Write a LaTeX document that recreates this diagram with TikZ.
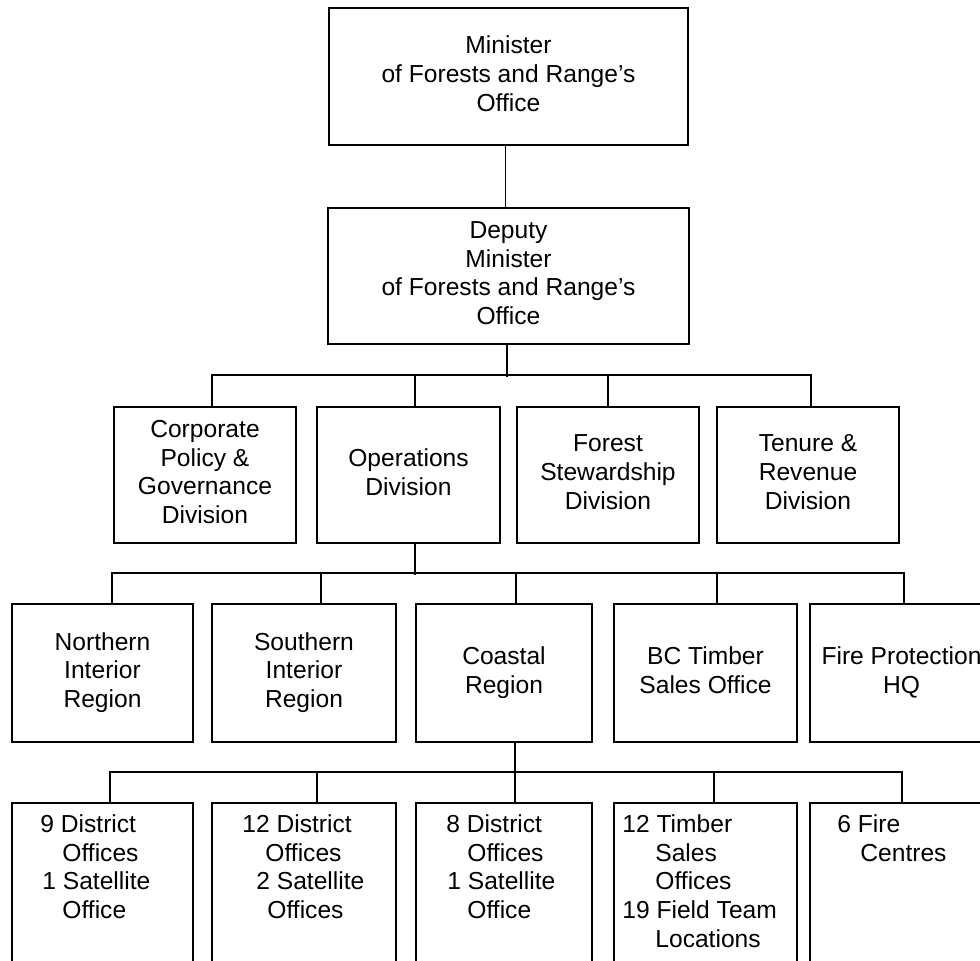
\documentclass[tikz,border=0pt]{standalone}
\usepackage{fontspec}
\setmainfont{Liberation Sans}

\begin{document}
\begin{tikzpicture}[x=1pt,y=-1pt]
  \tikzset{
    unitbox/.style={draw,line width=1.6pt,minimum width=182pt,minimum height=136pt,
      align=center,inner sep=0pt,text depth=6pt,font=\fontsize{24.6}{28.8}\selectfont},
    listtext/.style={anchor=north west,align=left,inner sep=0pt,
      font=\fontsize{24.6}{28.8}\selectfont},
    link/.style={line width=1.6pt},
  }
  \useasboundingbox (0,0) rectangle (980,961);
  \clip (0,0) rectangle (980,961);
  % top offices
  \node[unitbox,minimum width=359pt,minimum height=137pt] (minister) at (508.5,76.5) {Minister\\of Forests and Range’s\\Office};
  \node[unitbox,minimum width=361pt] (deputy) at (508.5,276) {Deputy\\Minister\\of Forests and Range’s\\Office};
  % divisions
  \node[unitbox] (corporate) at (205,475) {Corporate\\Policy \&\\Governance\\Division};
  \node[unitbox,minimum width=183pt] (operations) at (408.5,475) {Operations\\Division};
  \node[unitbox] (stewardship) at (608,475) {Forest\\Stewardship\\Division};
  \node[unitbox] (tenure) at (808,475) {Tenure \&\\Revenue\\Division};
  % regions
  \node[unitbox,minimum width=181pt,minimum height=138pt] (northern) at (102.5,673) {Northern\\Interior\\Region};
  \node[unitbox,minimum width=184pt,minimum height=138pt] (southern) at (304,673) {Southern\\Interior\\Region};
  \node[unitbox,minimum width=176pt,minimum height=138pt] (coastal) at (504,673) {Coastal\\Region};
  \node[unitbox,minimum width=183pt,minimum height=138pt] (timber) at (705.5,673) {BC Timber\\Sales Office};
  \node[unitbox,minimum width=183pt,minimum height=138pt] (fire) at (901.5,673) {Fire Protection\\HQ};
  % field offices
  \node[unitbox,minimum width=181pt,minimum height=200pt] (nidist) at (102.5,903) {};
  \node[unitbox,minimum width=184pt,minimum height=200pt] (sidist) at (304,903) {};
  \node[unitbox,minimum width=176pt,minimum height=200pt] (cdist) at (504,903) {};
  \node[unitbox,minimum width=183pt,minimum height=200pt] (tsdist) at (705.5,903) {};
  \node[unitbox,minimum width=183pt,minimum height=200pt] (fcdist) at (901.5,903) {};
  \node[listtext] (nitext) at ([shift={(29,12)}]nidist.north west) {9 District\\\hspace*{22pt}Offices\\\hspace*{2pt}1 Satellite\\\hspace*{22pt}Office};
  \node[listtext] (sitext) at ([shift={(31,12)}]sidist.north west) {12 District\\\hspace*{23pt}Offices\\\hspace*{14pt}2 Satellite\\\hspace*{25pt}Offices};
  \node[listtext] (ctext) at ([shift={(31,12)}]cdist.north west) {8 District\\\hspace*{21pt}Offices\\\hspace*{1pt}1 Satellite\\\hspace*{21pt}Office};
  \node[listtext] (tstext) at ([shift={(9,12)}]tsdist.north west) {12 Timber\\\hspace*{33pt}Sales\\\hspace*{33pt}Offices\\19 Field Team\\\hspace*{33pt}Locations};
  \node[listtext] (fctext) at ([shift={(28,12)}]fcdist.north west) {6 Fire\\\hspace*{23pt}Centres};
  % connectors
  \draw[link] ([xshift=-3pt]minister.south) -- ([xshift=-3pt]deputy.north);
  \draw[link] ([xshift=-1.5pt]deputy.south) -- ++(0,32);
  \draw[link] ([xshift=7pt]corporate.north) -- ++(0,-31) -| ([xshift=3pt]tenure.north);
  \foreach \n/\s in {operations/6.5,stewardship/0}
    \draw[link] ([xshift=\s pt]\n.north) -- ++(0,-31);
  \draw[link] ([xshift=6.5pt]operations.south) -- ++(0,31);
  \draw[link] ([xshift=9.5pt]northern.north) -- ++(0,-30) -| ([xshift=2.5pt]fire.north);
  \foreach \n/\s in {southern/17,coastal/12,timber/11.5}
    \draw[link] ([xshift=\s pt]\n.north) -- ++(0,-30);
  \draw[link] ([xshift=11pt]coastal.south) -- ([xshift=11pt]cdist.north);
  \draw[link] ([xshift=7.5pt]nidist.north) -- ++(0,-30) -| ([xshift=0.5pt]fcdist.north);
  \foreach \n/\s in {sidist/13,tsdist/8.5}
    \draw[link] ([xshift=\s pt]\n.north) -- ++(0,-30);
\end{tikzpicture}
\end{document}
